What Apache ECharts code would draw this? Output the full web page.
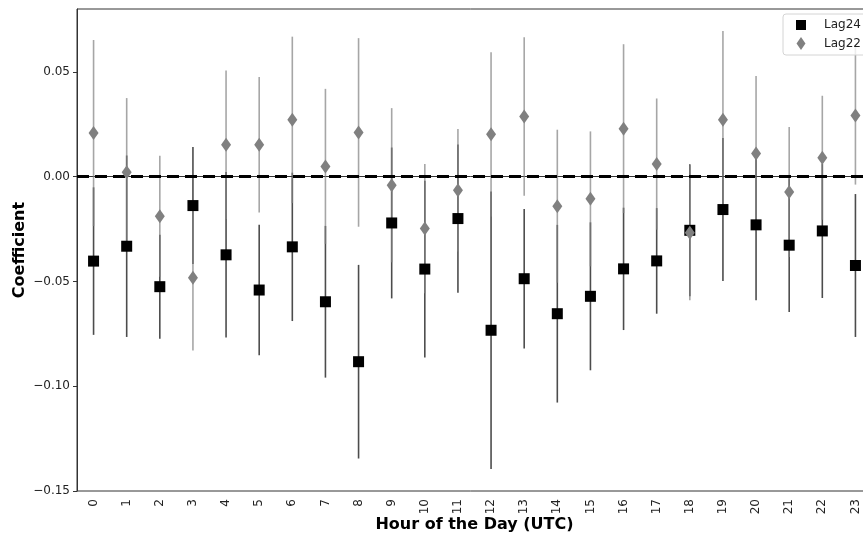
<!DOCTYPE html>
<html>
<head>
<meta charset="utf-8">
<script src="https://cdn.jsdelivr.net/npm/echarts@6/dist/echarts.min.js"></script>
<style>
  html, body { margin: 0; padding: 0; background: #fff; }
  #chart { width: 863px; height: 538px; }
</style>
</head>
<body>
<div id="chart"></div>
<script>
// hours on the x axis
const hours = ["0", "1", "2", "3", "4", "5", "6", "7", "8", "9", "10", "11",
  "12", "13", "14", "15", "16", "17", "18", "19", "20", "21", "22", "23"];
// Lag24 coefficients and half-width of the interval
const lag24 = [-0.0403, -0.0332, -0.0525, -0.0138, -0.0373, -0.0541, -0.0335, -0.0597,
  -0.0883, -0.0221, -0.0441, -0.0200, -0.0733, -0.0487, -0.0654, -0.0571,
  -0.0440, -0.0402, -0.0256, -0.0157, -0.0230, -0.0327, -0.0259, -0.0424];
const lag24Err = [0.0352, 0.0433, 0.0248, 0.0279, 0.0395, 0.0311, 0.0354, 0.0362,
  0.0462, 0.0360, 0.0422, 0.0354, 0.0662, 0.0333, 0.0424, 0.0353,
  0.0292, 0.0252, 0.0315, 0.0341, 0.0360, 0.0319, 0.0320, 0.0341];
// Lag22 coefficients and half-width of the interval
const lag22 = [0.0208, 0.0021, -0.0189, -0.0483, 0.0152, 0.0152, 0.0271, 0.0049,
  0.0211, -0.0041, -0.0248, -0.0065, 0.0202, 0.0287, -0.0141, -0.0106,
  0.0229, 0.0060, -0.0268, 0.0271, 0.0110, -0.0073, 0.0090, 0.0292];
const lag22Err = [0.0444, 0.0354, 0.0289, 0.0346, 0.0354, 0.0323, 0.0397, 0.0370,
  0.0450, 0.0368, 0.0308, 0.0292, 0.0392, 0.0378, 0.0365, 0.0322,
  0.0403, 0.0313, 0.0322, 0.0424, 0.0370, 0.0310, 0.0296, 0.0330];
const yTicks = [-0.15, -0.1, -0.05, 0, 0.05];

const FONT = "DejaVu Sans";

function errData(vals, errs) {
  return vals.map((v, i) => [i, v - errs[i], v + errs[i]]);
}

function errSeries(name, vals, errs, color, z) {
  return {
    name: name,
    type: "custom",
    z: z,
    silent: true,
    encode: { x: 0, y: [1, 2] },
    data: errData(vals, errs),
    renderItem: function (params, api) {
      const x = api.value(0);
      const p1 = api.coord([x, api.value(1)]);
      const p2 = api.coord([x, api.value(2)]);
      return {
        type: "line",
        shape: { x1: p1[0], y1: p1[1], x2: p2[0], y2: p2[1] },
        style: { stroke: color, lineWidth: 1.6 }
      };
    }
  };
}

const chart = echarts.init(document.getElementById("chart"), null, { renderer: "canvas" });

const lag22Bars = errSeries("Lag22 CI", lag22, lag22Err, "rgba(128,128,128,0.7)", 2);
// dashed zero line
lag22Bars.markLine = {
  silent: true,
  symbol: ["none", "none"],
  label: { show: false },
  lineStyle: { color: "#000", width: 3, type: "dashed", opacity: 1 },
  data: [{ yAxis: 0 }]
};

const options = {
  animation: false,
  textStyle: { fontFamily: FONT },
  grid: {
    left: 77,
    top: 9,
    width: 795,
    height: 482,
    outerBoundsMode: "none",
    containLabel: false,
    show: true,
    borderColor: "#333",
    borderWidth: 1,
    backgroundColor: "transparent"
  },
  legend: {
    left: 783,
    top: 14,
    orient: "vertical",
    data: [
      { name: "Lag24", icon: "path://M0,0H10V10H0Z" },
      { name: "Lag22", icon: "path://M4.5,0L9,6.5L4.5,13L0,6.5Z" }
    ],
    symbolKeepAspect: true,
    itemWidth: 10,
    itemHeight: 13,
    itemGap: 6,
    padding: [5, 12, 5, 13],
    backgroundColor: "rgba(255,255,255,0.8)",
    borderColor: "#d4d4d4",
    borderWidth: 1,
    borderRadius: 3,
    textStyle: { fontFamily: FONT, fontSize: 12, color: "#222", padding: [0, 0, 0, 13] }
  },
  xAxis: {
    type: "category",
    data: hours,
    boundaryGap: true,
    name: "Hour of the Day (UTC)",
    nameLocation: "middle",
    nameGap: 26,
    nameMoveOverlap: false,
    nameTextStyle: { fontFamily: FONT, fontSize: 16, fontWeight: "bold", color: "#000" },
    axisLine: { lineStyle: { color: "#333", width: 1 } },
    axisTick: { alignWithLabel: true, length: 4, lineStyle: { color: "#333" } },
    axisLabel: { rotate: 90, margin: 8, fontFamily: FONT, fontSize: 12, color: "#222" },
    splitLine: { show: false }
  },
  yAxis: {
    type: "value",
    min: -0.15,
    max: 0.08,
    interval: 0.05,
    name: "Coefficient",
    nameLocation: "middle",
    nameGap: 49,
    nameMoveOverlap: false,
    nameTextStyle: { fontFamily: FONT, fontSize: 16, fontWeight: "bold", color: "#000" },
    axisLine: { show: true, lineStyle: { color: "#333", width: 1 } },
    axisTick: { show: true, length: 4, customValues: yTicks, lineStyle: { color: "#333" } },
    axisLabel: {
      customValues: yTicks,
      margin: 7,
      fontFamily: FONT,
      fontSize: 12,
      color: "#222",
      formatter: function (v) {
        return v.toFixed(2).replace("-", "\u2212");
      }
    },
    splitLine: { show: false }
  },
  series: [
    errSeries("Lag24 CI", lag24, lag24Err, "rgba(0,0,0,0.7)", 1),
    lag22Bars,
    {
      name: "Lag24",
      type: "scatter",
      z: 4,
      symbol: "rect",
      symbolSize: 11,
      itemStyle: { color: "#000", opacity: 1 },
      data: lag24
    },
    {
      name: "Lag22",
      type: "scatter",
      z: 5,
      symbol: "diamond",
      symbolSize: [10, 14],
      itemStyle: { color: "#808080", opacity: 1 },
      data: lag22
    }
  ]
};

if (options && typeof options === "object") chart.setOption(options);
</script>
</body>
</html>
